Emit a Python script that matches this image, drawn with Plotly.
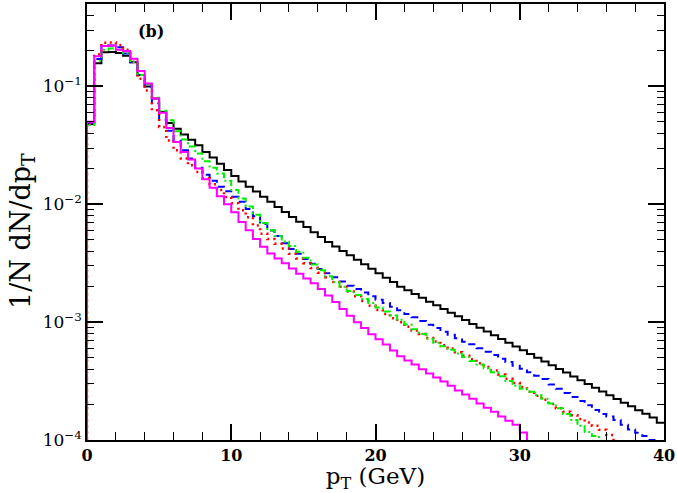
import numpy as np
import plotly.graph_objects as go

# pT bins: 0.5 GeV wide, 0..40 GeV
bin_width = 0.5
edges = np.arange(0, 40 + bin_width / 2, bin_width)

black = [0.048, 0.157, 0.195, 0.196, 0.192, 0.182, 0.160, 0.125, 0.100, 0.079,
         0.0605, 0.0489, 0.0438, 0.0390, 0.0353, 0.0316, 0.0277, 0.0249, 0.0221, 0.0195,
         0.0174, 0.0156, 0.0141, 0.0128, 0.0116, 0.0105, 0.0095, 0.0086, 0.0078, 0.0071,
         0.0064, 0.0058, 0.00527, 0.00479, 0.00439, 0.00402, 0.00369, 0.00338, 0.00310, 0.00284,
         0.00260, 0.00238, 0.00219, 0.00200, 0.00186, 0.00173, 0.00161, 0.00149, 0.00139, 0.00129,
         0.00120, 0.00112, 0.00104, 0.000965, 0.000897, 0.000834, 0.000775, 0.000720, 0.000669, 0.000622,
         0.000578, 0.000537, 0.000499, 0.000464, 0.000431, 0.000401, 0.000373, 0.000346, 0.000322, 0.000299,
         0.000278, 0.000258, 0.000240, 0.000223, 0.000207, 0.000193, 0.000179, 0.000167, 0.000155, 0.000140]

blue = [0.049, 0.171, 0.222, 0.222, 0.215, 0.190, 0.160, 0.125, 0.100, 0.072,
        0.052, 0.042, 0.0345, 0.0287, 0.0244, 0.0204, 0.0178, 0.0158, 0.0141, 0.0129,
        0.0116, 0.0105, 0.0091, 0.0079, 0.0068, 0.0060, 0.00537, 0.00468, 0.00417, 0.00380,
        0.00343, 0.00313, 0.00282, 0.00260, 0.00240, 0.00221, 0.00204, 0.00191, 0.00178, 0.00166,
        0.00155, 0.00145, 0.00135, 0.00126, 0.00117, 0.00110, 0.00102, 0.00095, 0.00089, 0.00083,
        0.00078, 0.00073, 0.00068, 0.00065, 0.00060, 0.00056, 0.000525, 0.00049, 0.00046, 0.000427,
        0.000403, 0.000376, 0.00035, 0.00033, 0.000295, 0.000272, 0.000251, 0.000232, 0.000214, 0.000197,
        0.000180, 0.000166, 0.000158, 0.000148, 0.000135, 0.000123, 0.000115, 0.000108, 0.000100, 0.000087]

red = [0.048, 0.186, 0.234, 0.236, 0.225, 0.205, 0.162, 0.116, 0.0925, 0.0626,
       0.0452, 0.0348, 0.0287, 0.0244, 0.0214, 0.0188, 0.0166, 0.0148, 0.0132, 0.0115,
       0.0102, 0.0089, 0.00776, 0.00661, 0.00562, 0.00507, 0.00462, 0.00422, 0.00380, 0.00347,
       0.00316, 0.00288, 0.00263, 0.00240, 0.00219, 0.00200, 0.00182, 0.00166, 0.00151, 0.00138,
       0.00127, 0.00117, 0.00108, 0.00100, 0.000912, 0.000851, 0.000794, 0.000733, 0.000684, 0.000638,
       0.000596, 0.000556, 0.000519, 0.000484, 0.000447, 0.000417, 0.000389, 0.000359, 0.000331, 0.000305,
       0.000282, 0.000257, 0.000237, 0.000219, 0.000202, 0.000186, 0.000174, 0.000162, 0.000151, 0.000141,
       0.000132, 0.000122, 0.000110, 0.0000955, 0.000083, 0.000075, 0.000068, 0.000061, 0.000055, 0.000050]

green = [0.047, 0.165, 0.205, 0.210, 0.205, 0.190, 0.160, 0.125, 0.105, 0.080,
         0.062, 0.0515, 0.0417, 0.0355, 0.0309, 0.0270, 0.0232, 0.0204, 0.0182, 0.0158,
         0.0132, 0.0112, 0.00955, 0.00813, 0.00692, 0.00603, 0.00537, 0.00484, 0.00442, 0.00395,
         0.00352, 0.00309, 0.00275, 0.00245, 0.00219, 0.00200, 0.00184, 0.00170, 0.00157, 0.00145,
         0.00133, 0.00123, 0.00114, 0.00105, 0.000955, 0.000871, 0.000794, 0.000724, 0.000668, 0.000624,
         0.000582, 0.000543, 0.000507, 0.000468, 0.000437, 0.000407, 0.000376, 0.000347, 0.000316, 0.000288,
         0.000272, 0.000257, 0.000240, 0.000224, 0.000204, 0.000186, 0.000166, 0.000148, 0.000132, 0.000117,
         0.000108, 0.0000955, 0.000079, 0.000070, 0.000063, 0.000056, 0.000050, 0.000045, 0.000040, 0.000036]

magenta = [0.050, 0.180, 0.220, 0.222, 0.205, 0.200, 0.172, 0.135, 0.106, 0.079,
           0.0598, 0.0444, 0.0337, 0.0278, 0.0240, 0.0201, 0.0163, 0.0138, 0.0117, 0.0100,
           0.00855, 0.00708, 0.00603, 0.00508, 0.00435, 0.00382, 0.00347, 0.00316, 0.00285, 0.00257,
           0.00234, 0.00214, 0.00191, 0.00168, 0.00148, 0.00129, 0.001135, 0.00100, 0.00089, 0.00079,
           0.000716, 0.000646, 0.000575, 0.000513, 0.000473, 0.000437, 0.000398, 0.000367, 0.000339, 0.000313,
           0.000288, 0.000263, 0.000243, 0.000224, 0.000204, 0.000188, 0.000174, 0.000158, 0.000146, 0.000135,
           0.000116, 0.000098, 0.000089, 0.000081, 0.000074, 0.000067, 0.000061, 0.000055, 0.000050, 0.000046,
           0.000042, 0.000038, 0.000035, 0.000032, 0.000029, 0.000026, 0.000024, 0.000022, 0.000020, 0.000018]

y_ticks = [1e-4, 1e-3, 1e-2, 1e-1]
y_ticktext = ["10<sup>\u22124</sup>", "10<sup>\u22123</sup>", "10<sup>\u22122</sup>", "10<sup>\u22121</sup>"]
y_minor = [m * 10.0 ** e for e in range(-4, 0) for m in range(2, 10)]
x_ticks = [0, 10, 20, 30, 40]

floor = 1e-7


def step_xy(vals):
    xs = [edges[0]] + list(edges)
    ys = [floor] + list(vals) + [vals[-1]]
    return xs, ys


series = [
    (black, "black", "solid", 2),
    (blue, "#0000ff", "7px,5px", 2),
    (red, "#ff0000", "2px,4px", 2.5),
    (green, "#00ee00", "7px,3px,2px,3px", 2),
    (magenta, "#ff00ff", "solid", 2),
]

fig = go.Figure()
for vals, col, dash, w in series:
    xs, ys = step_xy(vals)
    fig.add_trace(go.Scatter(x=xs, y=ys, mode="lines", line=dict(color=col, width=w, dash=dash, shape="hv"),
                             showlegend=False, hoverinfo="skip"))

fig.update_xaxes(range=[0, 40], tickvals=x_ticks, ticks="inside", ticklen=16, tickwidth=1.5,
                 tickcolor="black", showline=True, linecolor="black", linewidth=1.5, mirror="allticks",
                 showgrid=False, zeroline=False, automargin=False,
                 tickfont=dict(family="DejaVu Serif", size=16, color="black", weight="bold"),
                 minor=dict(dtick=2, ticks="inside", ticklen=8, tickwidth=1.2, tickcolor="black", showgrid=False),
                 title=dict(text="p<sub>T</sub> (GeV)", font=dict(family="DejaVu Serif", size=23, color="black"),
                            standoff=4))
fig.update_yaxes(type="log", range=[-4, np.log10(0.5)], tickvals=y_ticks, ticktext=y_ticktext,
                 ticks="inside", ticklen=16, tickwidth=1.5, tickcolor="black", showline=True, linecolor="black",
                 linewidth=1.5, mirror="allticks", showgrid=False, zeroline=False, automargin=False,
                 tickfont=dict(family="DejaVu Serif", size=17, color="black"),
                 minor=dict(tickmode="array", tickvals=y_minor, ticks="inside", ticklen=7, tickwidth=1.2,
                            tickcolor="black", showgrid=False))

fig.add_annotation(text="1/N dN/dp<sub>T</sub>", xref="paper", yref="paper", x=-0.113, y=0.479,
                   textangle=-90, showarrow=False, xanchor="center", yanchor="middle",
                   font=dict(family="DejaVu Serif", size=27, color="black"))

fig.add_annotation(text="<b>(b)</b>", xref="paper", yref="paper", x=0.111, y=0.938, showarrow=False,
                   xanchor="center", yanchor="middle",
                   font=dict(family="DejaVu Serif", size=16, color="black"))

fig.update_layout(width=677, height=493, margin=dict(l=87, r=13, t=4, b=53, autoexpand=False),
                  paper_bgcolor="white", plot_bgcolor="white")

fig.write_html("out.html", config={"displayModeBar": False},
               post_script="document.body.style.margin='0px';")
